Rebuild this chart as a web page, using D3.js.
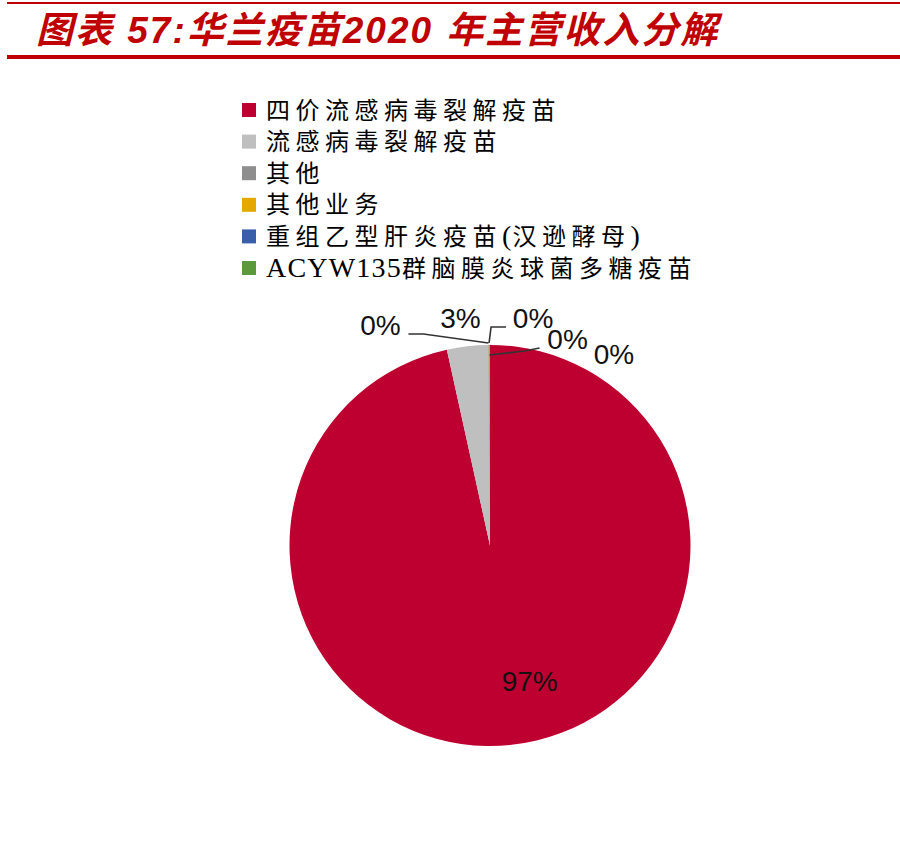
<!DOCTYPE html>
<html>
<head>
<meta charset="utf-8">
<script src="https://cdn.jsdelivr.net/npm/d3@7"></script>
<style>
  html, body { margin: 0; padding: 0; background: #fff; }
  svg { display: block; }
</style>
</head>
<body>
<svg id="chart" width="900" height="858"></svg>
<script>
// ---- data ----
const titleText = "图表 57:华兰疫苗2020 年主营收入分解";
const categories = [
  "四价流感病毒裂解疫苗",
  "流感病毒裂解疫苗",
  "其他",
  "其他业务",
  "重组乙型肝炎疫苗(汉逊酵母)",
  "ACYW135群脑膜炎球菌多糖疫苗"
];
const values = [96.55, 3.30, 0.05, 0.05, 0.03, 0.02];
const valueLabels = ["97%", "3%", "0%", "0%", "0%", "0%"];
const colors = ["#BE0030", "#BFBFBF", "#8E8E8E", "#E5A800", "#3A5FAA", "#5A9A3C"];

// ---- layout ----
const svg = d3.select("#chart");
const red = "#C00000";
const cx = 490, cy = 545.5, R = 200.5;

// header rules
svg.append("line").attr("x1", 7).attr("x2", 900).attr("y1", 3).attr("y2", 3)
  .attr("stroke", red).attr("stroke-width", 2);
svg.append("line").attr("x1", 7).attr("x2", 900).attr("y1", 57).attr("y2", 57)
  .attr("stroke", red).attr("stroke-width", 4);

svg.append("text")
  .attr("x", 36).attr("y", 43)
  .attr("fill", red)
  .style("font-family", "'Liberation Sans', 'Noto Sans CJK SC', sans-serif")
  .style("font-size", "37px").style("font-weight", "bold").style("font-style", "italic")
  .style("letter-spacing", "2px")
  .style("word-spacing", "1px")
  .text(titleText);

// split a label into runs of CJK / non-CJK characters
function runs(s) {
  const out = [];
  for (const ch of s) {
    const cjk = /[\u3000-\u9fff\uff00-\uffef]/.test(ch);
    if (out.length && out[out.length - 1].cjk === cjk) out[out.length - 1].t += ch;
    else out.push({ t: ch, cjk });
  }
  return out;
}

// legend
const legend = svg.append("g");
const legY = d3.scaleLinear().domain([0, categories.length - 1]).range([110, 268]);
categories.forEach((c, i) => {
  legend.append("rect")
    .attr("x", 242).attr("y", legY(i) - 7).attr("width", 14).attr("height", 14)
    .attr("fill", colors[i]);
  const t = legend.append("text")
    .attr("x", 266).attr("y", legY(i)).attr("dy", "0.36em")
    .attr("fill", "#000")
    .style("font-family", "'Liberation Serif', 'Noto Sans CJK SC', serif")
    .style("font-size", "24px");
  runs(c).forEach(r => {
    t.append("tspan")
      .style("letter-spacing", r.cjk ? "5.5px" : "1.2px")
      .style("font-size", r.cjk ? "24px" : "28px")
      .text(r.t);
  });
});

// pie
const pie = d3.pie().sort(null).value(d => d).startAngle(0).endAngle(2 * Math.PI);
const arcs = pie(values);
const arc = d3.arc().innerRadius(0).outerRadius(R);
const rimArc = d3.arc().innerRadius(R).outerRadius(R);

const g = svg.append("g").attr("transform", `translate(${cx},${cy})`);
g.selectAll("path.slice").data(arcs).enter().append("path")
  .attr("class", "slice")
  .attr("d", arc)
  .attr("fill", (d, i) => colors[i]);

// label placement relative to each slice's rim anchor point
const labelOffsets = [
  [18, -64],   // 97%
  [-7, -28],   // 3%
  [-108, -20], // 0%
  [44, -27],   // 0%
  [78, -6],    // 0%
  [124, 9]     // 0%
];
const leaders = [
  null,
  null,
  [[0, -2], [-65, -11], [-80, -11]],
  [[0, -2], [2, -18], [17, -18]],
  [[0, 10], [35, 6], [50, 3]],
  null
];

arcs.forEach((d, i) => {
  const [ax, ay] = rimArc.centroid(d);
  if (leaders[i]) {
    g.append("path")
      .attr("d", d3.line()(leaders[i].map(p => [ax + p[0], ay + p[1]])))
      .attr("fill", "none").attr("stroke", "#333").attr("stroke-width", 1.6);
  }
  g.append("text")
    .attr("x", ax + labelOffsets[i][0]).attr("y", ay + labelOffsets[i][1])
    .attr("dy", "0.36em").attr("text-anchor", "middle")
    .attr("fill", "#111")
    .style("font-family", "'Liberation Sans', Arial, sans-serif")
    .style("font-size", "28px")
    .text(valueLabels[i]);
});
</script>
</body>
</html>
